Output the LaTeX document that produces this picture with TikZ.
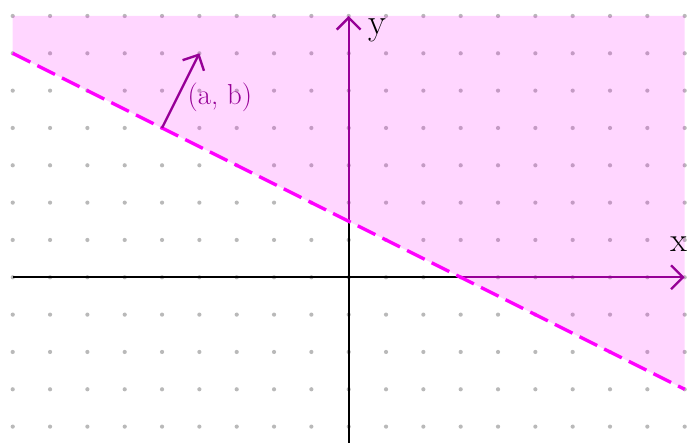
\documentclass[tikz,border=0pt]{standalone}
\usepackage{tikz}
\usetikzlibrary{arrows.meta}
\definecolor{halfpink}{RGB}{255,0,255}
\definecolor{deeppurp}{RGB}{150,0,150}
\definecolor{dotgray}{RGB}{185,185,185}

\begin{document}
\begin{tikzpicture}[>={Straight Barb[length=3.2mm,width=6.4mm]},
  axisline/.style={line width=1.8pt},
  halfline/.style={halfpink,line width=2.6pt,dash pattern=on 15pt off 6pt},
  lbl/.style={font=\fontsize{22}{26}\selectfont,inner sep=0pt}]
\useasboundingbox (-9.341,-4.439) rectangle (9.089,7.428);
\foreach \i in {-9,...,9}
  \foreach \j in {-4,...,7}
    \fill[dotgray] (\i,\j) circle (1.6pt);
\fill[halfpink,opacity=0.16] (-9,7) -- (9,7) -- (9,-3) -- (-9,6) -- cycle;
\coordinate (xl) at (-9,0);
\coordinate (xr) at (9,0);
\coordinate (xc) at (3,0);
\coordinate (yb) at (0,-4.439);
\coordinate (yt) at (0,7);
\coordinate (yc) at (0,1.5);
\coordinate (hl) at (-9,6);
\coordinate (hr) at (9,-3);
\coordinate (nb) at (-5,4);
\coordinate (nt) at (-4,6);
\draw[axisline] (xl) -- (xc);
\draw[axisline,deeppurp,->] (xc) -- (xr);
\draw[axisline] (yb) -- (yc);
\draw[axisline,deeppurp,->] (yc) -- (yt);
\draw[halfline] (hl) -- (hr);
\draw[axisline,deeppurp,->] (nb) -- (nt);
\node[lbl,deeppurp] (ab) at (-3.45,4.83) {(a, b)};
\node[lbl,font=\fontsize{28}{32}\selectfont] (ylab) at (0.77,6.62) {y};
\node[lbl,font=\fontsize{26}{30}\selectfont,anchor=east] (xlab) at (9.07,0.9) {x};
\end{tikzpicture}
\end{document}
